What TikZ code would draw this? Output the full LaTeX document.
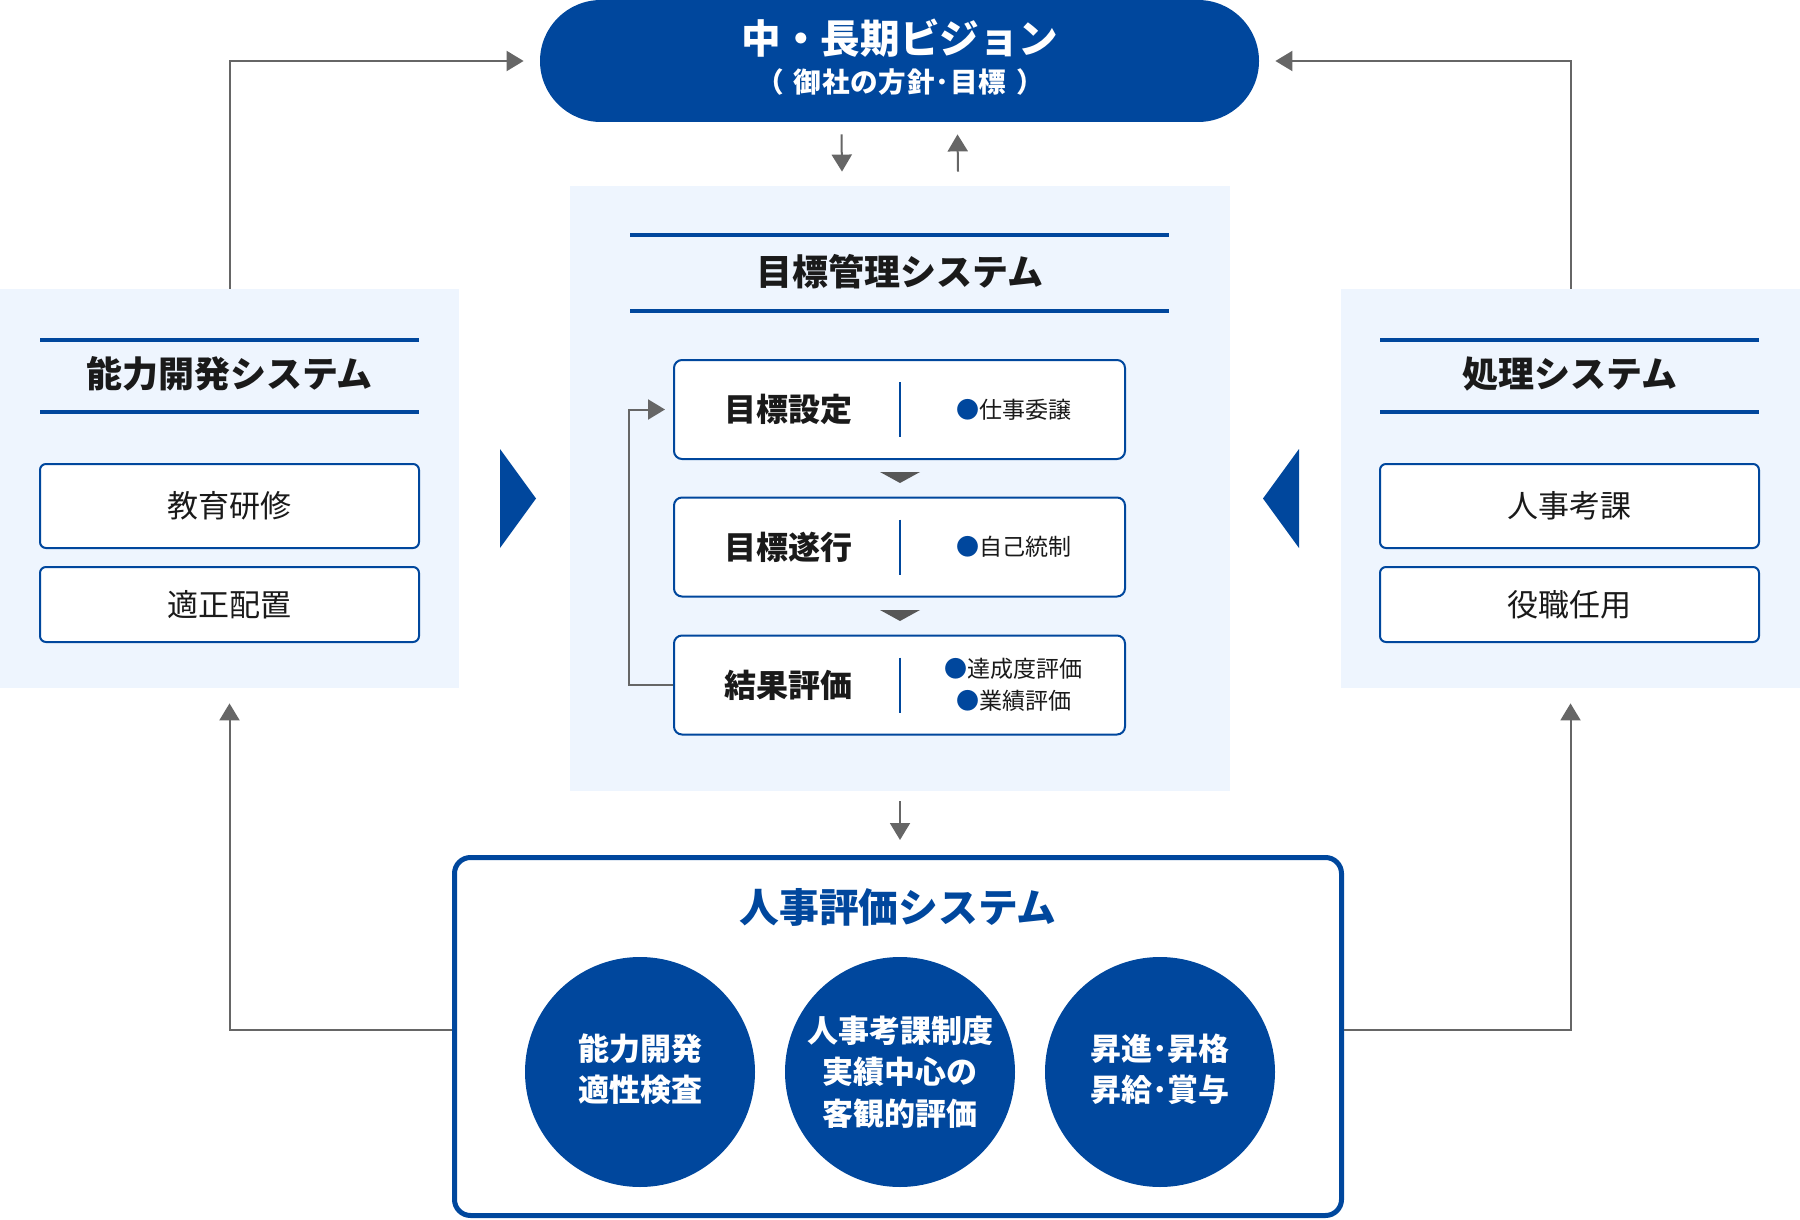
\documentclass[tikz,border=0pt]{standalone}
\usepackage{fontspec}
\setmainfont{Noto Sans CJK JP}
\usetikzlibrary{arrows.meta,positioning}
\definecolor{navy}{HTML}{00479D}
\definecolor{pale}{HTML}{EEF5FE}
\definecolor{arrowgray}{HTML}{666666}
\definecolor{ink}{HTML}{1A1A1A}

\begin{document}
\begin{tikzpicture}[x=0.5pt,y=-0.5pt,
  panel/.style={fill=pale, inner sep=0pt},
  titlerule/.style={draw=navy, line width=2pt},
  heading/.style={font=\fontsize{18}{21}\selectfont\bfseries, text=ink},
  itembox/.style={draw=navy, line width=1pt, rounded corners=3pt, fill=white, minimum width=189.5pt, inner sep=0pt, font=\fontsize{15.5}{18}\selectfont, text=ink},
  stepbox/.style={draw=navy, line width=1pt, rounded corners=4pt, fill=white, minimum width=225.5pt, minimum height=49.5pt, inner sep=0pt},
  steptext/.style={font=\fontsize{16}{19}\selectfont\bfseries, text=ink},
  notetext/.style={font=\fontsize{11.5}{16}\selectfont, text=ink, align=center},
  divider/.style={draw=navy, line width=1pt},
  conn/.style={draw=arrowgray, line width=1pt, -{Triangle[length=8.5pt,width=10pt]}},
  ball/.style={circle, fill=navy, minimum size=115pt, inner sep=0pt, text=white, align=center, font=\fontsize{15.5}{20.75}\selectfont\bfseries},
  ]
\useasboundingbox (0,0) rectangle (1800,1220);

\node[fill=navy, rounded corners=30.5pt, minimum width=359.5pt, minimum height=61pt, inner sep=0pt] (vision) at (899.5,61) {};
\node[font=\fontsize{19.8}{23}\selectfont\bfseries, text=white] (visiontitle) at (900,38) {中・長期ビジョン};
\node[font=\fontsize{13.8}{16}\selectfont\bfseries, text=white] (visionsub) at (900,82) {\addfontfeatures{LetterSpace=3}（\hspace{0.35em}御社の方針･目標\hspace{0.35em}）};

\node[panel, minimum width=330pt, minimum height=302.5pt] (mbopanel) at (900,488.5) {};
\draw[titlerule] (630,235) -- (1169,235);
\draw[titlerule] (630,311) -- (1169,311);
\node[heading] (mbotitle) at (900,272) {目標管理システム};

\node[stepbox] (goal) at (899.5,409.5) {};
\node[steptext] (goallbl) at ([xshift=-55.5pt]goal.center) {目標設定};
\draw[divider] ([yshift=13.75pt]goal.center) -- ([yshift=-13.75pt]goal.center);
\node[notetext] (goalnote) at ([xshift=57pt]goal.center) {{\color{navy}●}仕事委譲};

\node[stepbox] (exec) at (899.5,547) {};
\node[steptext] (execlbl) at ([xshift=-55.5pt]exec.center) {目標遂行};
\draw[divider] ([yshift=13.75pt]exec.center) -- ([yshift=-13.75pt]exec.center);
\node[notetext] (execnote) at ([xshift=57pt]exec.center) {{\color{navy}●}自己統制};

\node[stepbox] (eval) at (899.5,685) {};
\node[steptext] (evallbl) at ([xshift=-55.5pt]eval.center) {結果評価};
\draw[divider] ([yshift=13.75pt]eval.center) -- ([yshift=-13.75pt]eval.center);
\node[notetext] (evalnote) at ([xshift=57pt]eval.center) {{\color{navy}●}達成度評価\\{\color{navy}●}業績評価};

\fill[arrowgray!85!black] (880,472) -- (920,472) -- (900,483) -- cycle;
\fill[arrowgray!85!black] (880,610) -- (920,610) -- (900,621) -- cycle;
\draw[conn] (eval.west) -- ++(-44,0) |- ([xshift=-4pt]goal.west);

\node[panel, minimum width=229.5pt, minimum height=199.5pt] (devpanel) at (229.5,488.5) {};
\draw[titlerule] (40,340) -- (419,340);
\draw[titlerule] (40,412) -- (419,412);
\node[heading] (devtitle) at (229.5,374) {能力開発システム};
\node[itembox, minimum height=42pt] (training) at (229.5,506) {教育研修};
\node[itembox, minimum height=37.5pt] (placement) at (229.5,604.5) {適正配置};

\node[panel, minimum width=229.5pt, minimum height=199.5pt] (procpanel) at (1570.5,488.5) {};
\draw[titlerule] (1380,340) -- (1759,340);
\draw[titlerule] (1380,412) -- (1759,412);
\node[heading] (proctitle) at (1569.5,374) {処理システム};
\node[itembox, minimum height=42pt] (review) at (1569.5,506) {人事考課};
\node[itembox, minimum height=37.5pt] (posting) at (1569.5,604.5) {役職任用};

\fill[navy] (500,449) -- (536,498.5) -- (500,548) -- cycle;
\fill[navy] (1299,449) -- (1263,498.5) -- (1299,548) -- cycle;

\node[draw=navy, line width=2.5pt, rounded corners=8pt, minimum width=443.5pt, minimum height=179pt, inner sep=0pt] (hrbox) at (898,1036.5) {};
\node[font=\fontsize{19.9}{23}\selectfont\bfseries, text=navy] (hrtitle) at (898,907) {人事評価システム};
\node[ball, text depth=4.5pt] (aptitude) at (640,1072) {能力開発\\適性検査};
\node[ball] (appraisal) at (900,1072) {人事考課制度\\実績中心の\\客観的評価};
\node[ball, text depth=4.5pt] (promotion) at (1160,1072) {昇進･昇格\\昇給･賞与};

\draw[conn] ([xshift=-29pt,yshift=-6pt]vision.south) -- ([xshift=-29pt,yshift=7pt]mbopanel.north);
\draw[conn] ([xshift=29pt,yshift=7pt]mbopanel.north) -- ([xshift=29pt,yshift=-6pt]vision.south);
\draw[conn] (devpanel.north) |- ([xshift=-8pt]vision.west);
\draw[conn] (procpanel.north) |- ([xshift=8pt]vision.east);
\draw[conn] ([yshift=-5pt]mbopanel.south) -- ([yshift=7.5pt]hrbox.north -| mbopanel.south);
\draw[conn] ([yshift=3.5pt]hrbox.west) -| ([yshift=-7.5pt]devpanel.south);
\draw[conn] ([yshift=3.5pt]hrbox.east) -| ([yshift=-7.5pt]procpanel.south);
\end{tikzpicture}
\end{document}
